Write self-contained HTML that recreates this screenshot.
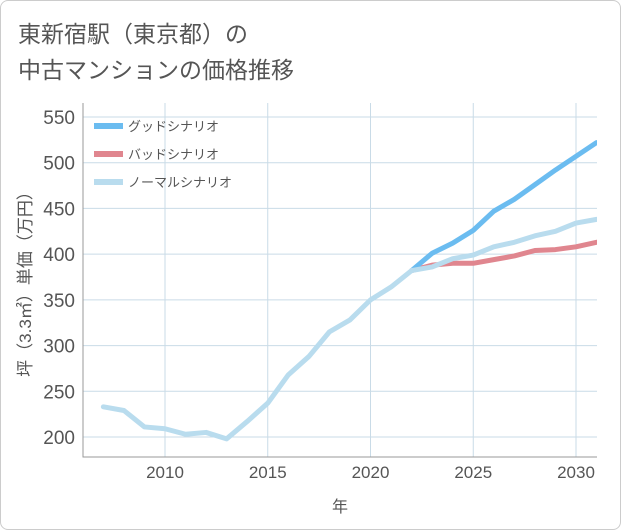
<!DOCTYPE html>
<html><head><meta charset="utf-8"><style>
body{margin:0;background:#fff;}
#c{position:relative;width:619px;height:528px;border:1px solid #ccc;border-radius:8px;overflow:hidden;background:#fff;}
.t{font-family:"Liberation Sans","Noto Sans CJK JP",sans-serif;}
</style></head><body>
<div id="c">
<svg id="s" width="621" height="530" style="position:absolute;left:-1px;top:-1px" class="t">
<text x="18" y="42" font-size="23" fill="#555">東新宿駅（東京都）の</text>
<text x="18" y="78" font-size="23" fill="#555">中古マンションの価格推移</text>
<g id="grid"></g><g id="series"></g>
</svg>
</div>
<script>
const years=[2007,2008,2009,2010,2011,2012,2013,2014,2015,2016,2017,2018,2019,2020,2021,2022];
const histVals=[233,229,211,209,203,205,198,217,237,268,288,315,328,350,364,382];
const futYears=[2022,2023,2024,2025,2026,2027,2028,2029,2030,2031];
const goodVals=[382,401,412,426,447,460,476,492,507,522];
const badVals=[382,388,390,390,394,398,404,405,408,413];
const normVals=[382,386,395,399,408,413,420,425,434,438];
const yTicks=[200,250,300,350,400,450,500,550];
const xTicks=[2010,2015,2020,2025,2030];
const L=83,R=597,T=103,B=457;
const X=v=>165+(v-2010)*20.55, Y=v=>437-(v-200)*0.9143;
const ns="http://www.w3.org/2000/svg", s=document.getElementById('s');
const g=document.getElementById('grid'), se=document.getElementById('series');
function mk(tag,a,p){const e=document.createElementNS(ns,tag);for(const k in a)e.setAttribute(k,a[k]);(p||s).appendChild(e);return e;}
yTicks.forEach(v=>{const l=mk('line',{x1:L,x2:R,y1:Y(v),y2:Y(v),stroke:'#c9dbe7','stroke-width':1},g);

const t=mk('text',{x:L-8,y:Y(v)+7,'text-anchor':'end','font-size':19,fill:'#555'},g);t.textContent=v;
});
xTicks.forEach(v=>{const l=mk('line',{x1:X(v),x2:X(v),y1:T,y2:B,stroke:'#c9dbe7','stroke-width':1},g);

const t=mk('text',{x:X(v),y:B+21,'text-anchor':'middle','font-size':17,fill:'#555'},g);t.textContent=v;
});
const fr=mk('path',{d:`M${L} ${T}V${B}H${R}`,fill:'none',stroke:'#999','stroke-width':1},g);

const yt=mk('text',{transform:'translate(31,280) rotate(-90)','text-anchor':'middle','font-size':17,fill:'#555'},g);yt.textContent='坪（3.3㎡）単価（万円）';

const xt=mk('text',{x:340,y:512,'text-anchor':'middle','font-size':16,fill:'#555'},g);xt.textContent='年';

function line(xs,vs,col,name){const d=xs.map((x,i)=>(i?'L':'M')+X(x)+' '+Y(vs[i])).join('');
const p=mk('path',{d,fill:'none',stroke:col,'stroke-width':5,'stroke-linejoin':'round','stroke-linecap':'round'},se);
}
const cp=mk('clipPath',{id:'cl'});mk('rect',{x:L,y:T,width:R-L,height:B-T},cp);se.setAttribute('clip-path','url(#cl)');
line(futYears,badVals,'#e0868f','bad-scenario-line');
line(futYears,goodVals,'#6bbcf0','good-scenario-line');
line(futYears,normVals,'#b9dcee','normal-scenario-line');
line(years,histVals,'#b9dcee','historical-line');
[['グッドシナリオ','#6bbcf0'],['バッドシナリオ','#e0868f'],['ノーマルシナリオ','#b9dcee']].forEach((e,i)=>{
const y=126+i*28;const l=mk('line',{x1:94,x2:123,y1:y,y2:y,stroke:e[1],'stroke-width':6});

const t=mk('text',{x:128,y:y+5,'font-size':13,fill:'#555'});t.textContent=e[0];
});
</script>
</body></html>
